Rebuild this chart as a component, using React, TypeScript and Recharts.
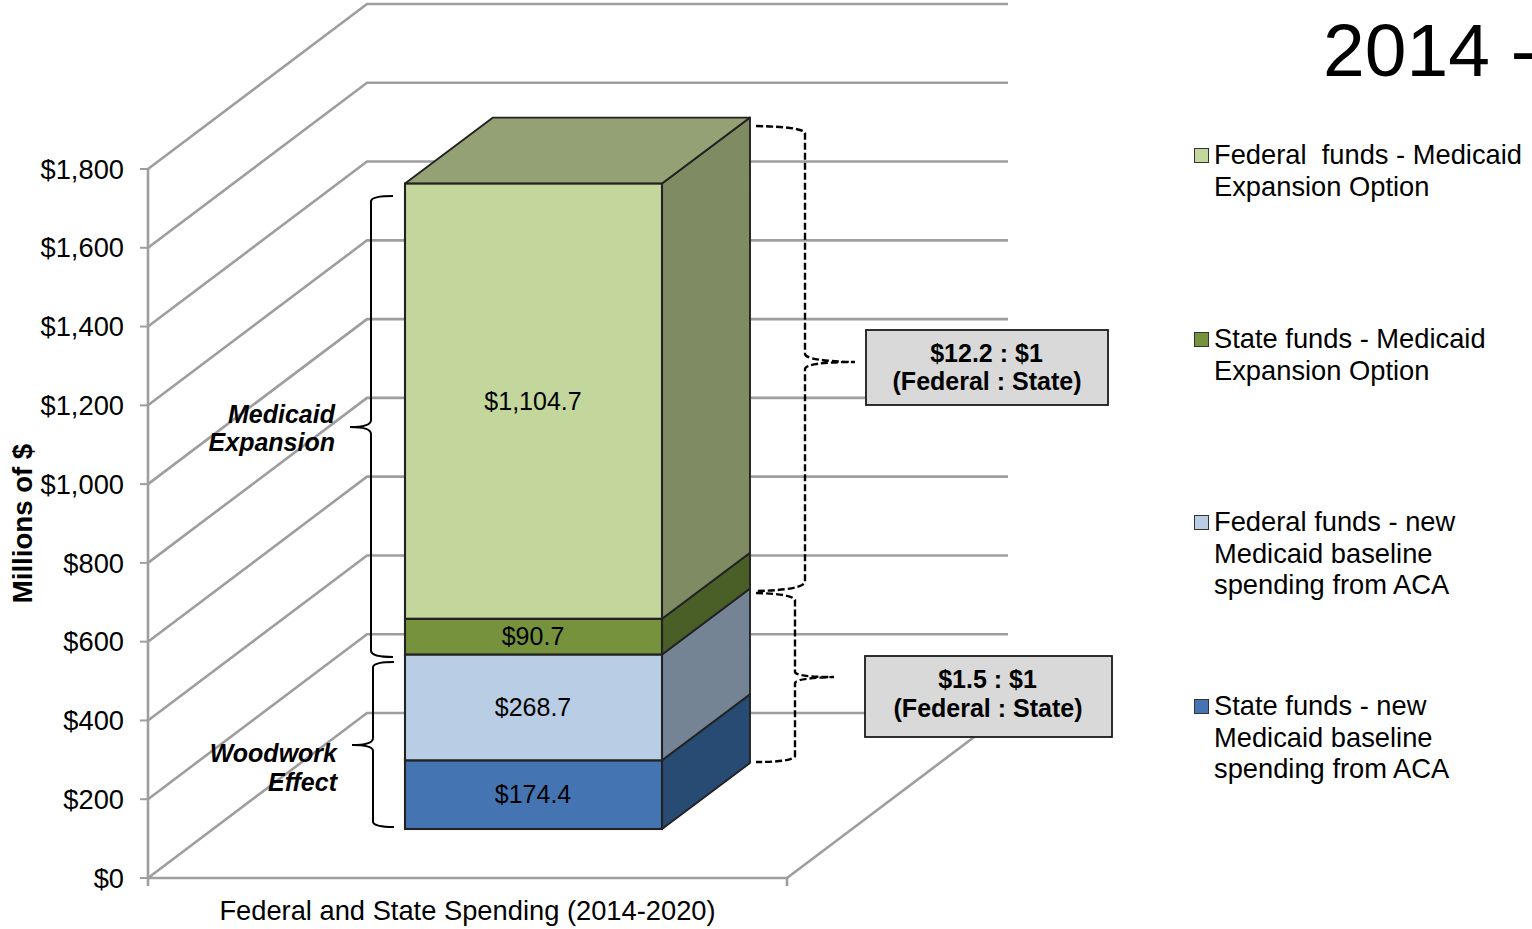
import React from 'react';
import { ComposedChart, Bar, XAxis, YAxis, CartesianGrid, Legend, LabelList, Customized } from 'recharts';

const categories = ['Federal and State Spending (2014-2020)'];
const seriesKeys = ['stateBase', 'fedBase', 'stateExp', 'fedExp'];
const seriesNames = [
  'State funds - new\nMedicaid baseline\nspending from ACA',
  'Federal funds - new\nMedicaid baseline\nspending from ACA',
  'State funds - Medicaid\nExpansion Option',
  'Federal  funds - Medicaid\nExpansion Option',
];
const stateBaseValues = [174.4];
const fedBaseValues = [268.7];
const stateExpValues = [90.7];
const fedExpValues = [1104.7];
const yTicks = [0, 200, 400, 600, 800, 1000, 1200, 1400, 1600, 1800];
const frontColors = ['#4475b2', '#b9cde5', '#76923c', '#c3d69b'];
const sideColors = ['#284b73', '#748494', '#4a5e27', '#7f8b63'];
const topColor = '#93a175';
const legendTops = [690, 506, 323, 139];

const FONT = '"Liberation Sans", Arial, sans-serif';
const WALL_DX = 219;
const WALL_DY = -165;
const WALL_RIGHT = 1008;
const BAR_DX = 66;
const BAR_DY = -49;
const DEPTH_X = 88;
const DEPTH_Y = -66;
const GRID = '#9e9e9e';
const EDGE = '#222';

const data = categories.map((c, i) => ({
  category: c,
  stateBase: stateBaseValues[i],
  fedBase: fedBaseValues[i],
  stateExp: stateExpValues[i],
  fedExp: fedExpValues[i],
}));

function gridLine(p: any) {
  const { x1, x2, y1, key } = p;
  const isFloor = Math.abs(y1 - 878) < 1;
  const bx = x1 + WALL_DX;
  const by = y1 + WALL_DY;
  return (
    <g key={key}>
      <polyline
        points={`${x1},${y1} ${bx},${by} ${WALL_RIGHT},${by}`}
        fill="none"
        stroke={GRID}
        strokeWidth={2.6}
      />
      {isFloor && (
        <>
          <line x1={x2} y1={y1} x2={x2 + WALL_DX} y2={by} stroke={GRID} strokeWidth={2.6} />
          <line x1={x1} y1={y1} x2={x1} y2={y1 + 8} stroke={GRID} strokeWidth={2.6} />
          <line x1={x2} y1={y1} x2={x2} y2={y1 + 8} stroke={GRID} strokeWidth={2.6} />
        </>
      )}
    </g>
  );
}

function box3D(p: any, i: number) {
  const x = p.x + BAR_DX;
  const y = p.y + BAR_DY;
  const w = p.width;
  const h = p.height;
  const isTop = i === seriesKeys.length - 1;
  const r = x + w;
  const b = y + h;
  return (
    <g>
      <polygon
        points={`${r},${y} ${r + DEPTH_X},${y + DEPTH_Y} ${r + DEPTH_X},${b + DEPTH_Y} ${r},${b}`}
        fill={sideColors[i]}
        stroke={EDGE}
        strokeWidth={1.9}
        strokeLinejoin="round"
      />
      {isTop && (
        <polygon
          points={`${x},${y} ${x + DEPTH_X},${y + DEPTH_Y} ${r + DEPTH_X},${y + DEPTH_Y} ${r},${y}`}
          fill={topColor}
          stroke={EDGE}
          strokeWidth={1.9}
          strokeLinejoin="round"
        />
      )}
      <rect x={x} y={y} width={w} height={h} fill={frontColors[i]} stroke={EDGE} strokeWidth={2.1} />
    </g>
  );
}

function valueLabel(p: any) {
  const { x, y, width, height, value } = p;
  return (
    <text
      x={x + BAR_DX + width / 2 - 0.5}
      y={y + BAR_DY + height / 2 - 0.5}
      textAnchor="middle"
      dominantBaseline="central"
      fontFamily={FONT}
      fontSize={25}
      fill="#000"
    >
      {`$${Number(value).toLocaleString('en-US', { minimumFractionDigits: 1 })}`}
    </text>
  );
}

function LegendContent() {
  return (
    <div style={{ position: 'relative', width: 338, height: 720, fontFamily: FONT, fontSize: 27.3, lineHeight: '31.5px', color: '#000', textAlign: 'left' }}>
      {seriesNames.map((name, i) => (
        <div key={name} style={{ position: 'absolute', left: 0, top: legendTops[i] - 139 }}>
          <span
            style={{
              position: 'absolute',
              left: 0,
              top: 9,
              width: 13,
              height: 13,
              background: frontColors[i],
              border: '1.5px solid #333',
            }}
          />
          <div style={{ marginLeft: 20, whiteSpace: 'pre' }}>{name}</div>
        </div>
      ))}
    </div>
  );
}

function Annotations() {
  const solid = { fill: 'none', stroke: '#000', strokeWidth: 2 };
  const dashed = { fill: 'none', stroke: '#000', strokeWidth: 2.4, strokeDasharray: '7 3' };
  const italic = { fontFamily: FONT, fontSize: 25, fontWeight: 700, fontStyle: 'italic', textAnchor: 'end' as const, fill: '#000' };
  const boxText = { fontFamily: FONT, fontSize: 25, fontWeight: 700, textAnchor: 'middle' as const, dominantBaseline: 'central' as const, fill: '#000' };
  return (
    <g>
      <text x={1323} y={76} fontFamily={FONT} fontSize={75} fill="#000">2014 -</text>

      <path {...solid} d="M393 196 Q372 196 371 201 L371 420 Q371 427 350 427 Q371 427 371 434 L371 651 Q372 657 393 657" />
      <path {...solid} d="M394 662 Q374 662 373 667 L373 738 Q373 745 352 745 Q373 745 373 751 L373 822 Q374 827 394 827" />
      <text {...italic} x={335} y={423}>Medicaid</text>
      <text {...italic} x={335} y={451}>Expansion</text>
      <text {...italic} x={337} y={762}>Woodwork</text>
      <text {...italic} x={337} y={791}>Effect</text>

      <path {...dashed} d="M756 126 Q803 127 805 133 L805 354 Q806 361 855 362 Q806 362 805 369 L805 582 Q803 590 756 591" />
      <path {...dashed} d="M756 593 Q793 594 795 600 L795 672 Q796 677 834 677 Q796 678 795 683 L795 756 Q793 762 756 762" />

      <rect x={866} y={330} width={242} height={75} fill="#d9d9d9" stroke="#1a1a1a" strokeWidth={1.8} />
      <text {...boxText} x={986.5} y={353}>$12.2 : $1</text>
      <text {...boxText} x={987} y={381}>(Federal : State)</text>
      <rect x={865} y={656} width={247} height={81} fill="#d9d9d9" stroke="#1a1a1a" strokeWidth={1.8} />
      <text {...boxText} x={987.5} y={679}>$1.5 : $1</text>
      <text {...boxText} x={988} y={708}>(Federal : State)</text>
    </g>
  );
}

export default function App() {
  return (
    <div style={{ position: 'absolute', left: 0, top: 0, width: 1532, height: 929, overflow: 'hidden', background: '#fff' }}>
      <ComposedChart
        width={1532}
        height={929}
        data={data}
        margin={{ top: 169, right: 745, bottom: 0, left: 0 }}
      >
        <CartesianGrid vertical={false} horizontal={gridLine} stroke={GRID} />
        <XAxis
          dataKey="category"
          height={51}
          interval={0}
          tickLine={false}
          tickMargin={17}
          axisLine={{ stroke: GRID, strokeWidth: 2.6 }}
          tick={{ fontFamily: FONT, fontSize: 27.3, fill: '#000' }}
        />
        <YAxis
          width={148}
          domain={[0, 1800]}
          ticks={yTicks}
          interval={0}
          tickSize={8}
          tickMargin={16}
          axisLine={{ stroke: GRID, strokeWidth: 2.6 }}
          tickLine={{ stroke: GRID, strokeWidth: 2 }}
          tick={{ fontFamily: FONT, fontSize: 27.3, fill: '#000' }}
          tickFormatter={(v: number) => `$${v.toLocaleString('en-US')}`}
          label={{
            content: (p: any) => {
              const { x, y, height } = p.viewBox;
              return (
                <text
                  transform={`translate(${x + 22},${y + height / 2}) rotate(-90)`}
                  textAnchor="middle"
                  dominantBaseline="central"
                  fontFamily={FONT}
                  fontSize={27.6}
                  fontWeight={700}
                  fill="#000"
                >
                  Millions of $
                </text>
              );
            },
          }}
        />
        {seriesKeys.map((k, i) => (
          <Bar
            key={k}
            dataKey={k}
            name={seriesNames[i]}
            stackId="total"
            barSize={257}
            fill={frontColors[i]}
            isAnimationActive={false}
            shape={(p: any) => box3D(p, i)}
          >
            <LabelList dataKey={k} content={valueLabel} />
          </Bar>
        ))}
        <Legend
          layout="horizontal"
          align="center"
          verticalAlign="middle"
          wrapperStyle={{ left: 1194, top: 139, width: 338 }}
          content={LegendContent}
        />
        <Customized component={Annotations} />
      </ComposedChart>
    </div>
  );
}
